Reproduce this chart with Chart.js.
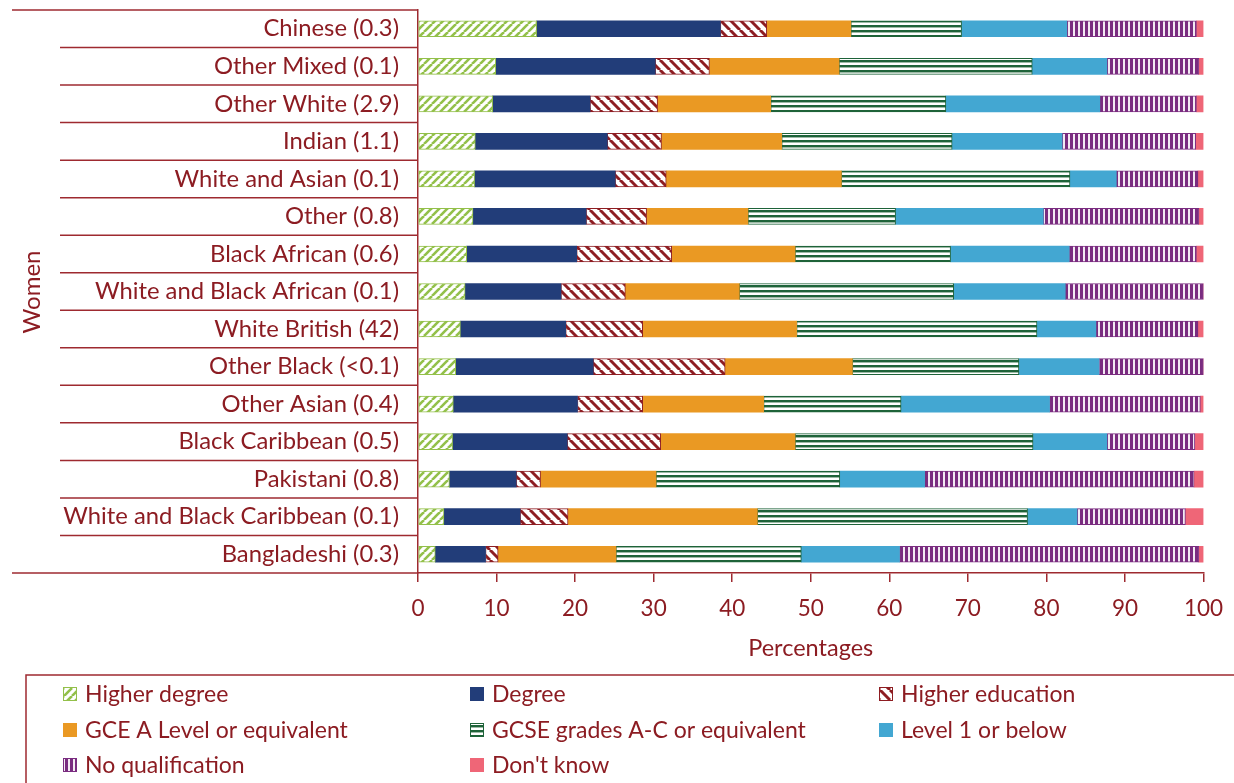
<!DOCTYPE html>
<html>
<head>
<meta charset="utf-8">
<script src="https://cdn.jsdelivr.net/npm/chart.js@4.4.1/dist/chart.umd.min.js"></script>
<style>
  html, body { margin: 0; padding: 0; background: #fff; }
  #wrap { width: 1234px; height: 783px; position: relative; }
</style>
</head>
<body>
<div id="wrap"><canvas id="qualChart"></canvas></div>
<script>
// Highest qualification by ethnic group, women (% share in brackets)
const CATEGORIES = [
  'Chinese (0.3)', 'Other Mixed (0.1)', 'Other White (2.9)', 'Indian (1.1)',
  'White and Asian (0.1)', 'Other (0.8)', 'Black African (0.6)',
  'White and Black African (0.1)', 'White British (42)', 'Other Black (<0.1)',
  'Other Asian (0.4)', 'Black Caribbean (0.5)', 'Pakistani (0.8)',
  'White and Black Caribbean (0.1)', 'Bangladeshi (0.3)'
];

const HIGHER_DEGREE = [15.1, 9.9, 9.5, 7.3, 7.2, 7.0, 6.2, 6.0, 5.4, 4.8, 4.5, 4.4, 4.0, 3.3, 2.2];
const DEGREE        = [23.4, 20.3, 12.4, 16.8, 17.9, 14.4, 14.0, 12.2, 13.4, 17.5, 15.8, 14.6, 8.5, 9.7, 6.4];
const HIGHER_ED     = [5.9, 6.9, 8.6, 6.9, 6.5, 7.7, 12.1, 8.2, 9.8, 16.8, 8.3, 11.9, 3.1, 6.1, 1.6];
const GCE_A_LEVEL   = [10.7, 16.5, 14.4, 15.3, 22.3, 12.9, 15.7, 14.5, 19.6, 16.2, 15.4, 17.1, 14.7, 24.1, 15.0];
const GCSE_AC       = [14.1, 24.6, 22.3, 21.7, 29.1, 18.8, 19.8, 27.3, 30.6, 21.2, 17.5, 30.3, 23.4, 34.4, 23.6];
const LEVEL1        = [13.4, 9.5, 19.6, 14.0, 5.9, 18.8, 15.1, 14.2, 7.5, 10.2, 18.9, 9.4, 10.8, 6.3, 12.5];
const NO_QUAL       = [16.5, 11.7, 12.3, 17.0, 10.4, 19.8, 16.2, 17.6, 13.0, 13.3, 19.2, 11.2, 34.3, 13.8, 38.1];
const DONT_KNOW     = [0.9, 0.6, 0.9, 1.0, 0.7, 0.6, 0.9, 0.0, 0.7, 0.0, 0.4, 1.1, 1.2, 2.3, 0.6];

const X_TICKS = [0, 10, 20, 30, 40, 50, 60, 70, 80, 90, 100];

const COLORS = {
  text:    '#8C1C22',
  rule:    '#9E2A30',
  hdeg:    '#93C04A',
  degree:  '#223D79',
  hed:     '#8E1D22',
  alevel:  '#EA9923',
  gcse:    '#1E6339',
  level1:  '#43A7D2',
  noqual:  '#7A2C80',
  dk:      '#EF6677',
};
const FONT = 'Lato, sans-serif';

// ── hatch patterns ─────────────────────────────────────────
function makePattern(w, h, draw) {
  const c = document.createElement('canvas');
  c.width = w; c.height = h;
  const g = c.getContext('2d');
  g.fillStyle = '#fff';
  g.fillRect(0, 0, w, h);
  draw(g, w, h);
  return document.getElementById('qualChart').getContext('2d').createPattern(c, 'repeat');
}

const hdegPattern = makePattern(8, 8, (g, w, h) => {
  g.strokeStyle = COLORS.hdeg; g.lineWidth = 2.6;
  [-w, 0, w].forEach(o => { g.beginPath(); g.moveTo(o, h); g.lineTo(o + w, 0); g.stroke(); });
});
const hedPattern = makePattern(10, 10, (g, w, h) => {
  g.strokeStyle = COLORS.hed; g.lineWidth = 3;
  [-w, 0, w].forEach(o => { g.beginPath(); g.moveTo(o, 0); g.lineTo(o + w, h); g.stroke(); });
});
const gcsePattern = makePattern(4, 5, (g, w) => {
  g.fillStyle = COLORS.gcse; g.fillRect(0, 0, w, 2);
  g.fillStyle = '#9DBAA6'; g.fillRect(0, 2, w, 1);
});
const noqualPattern = makePattern(5, 4, (g, w, h) => {
  g.fillStyle = '#F3EAF3'; g.fillRect(0, 0, w, h);
  g.fillStyle = COLORS.noqual; g.fillRect(0, 0, 3, h);
});

function series(label, data, fill, border) {
  return {
    label, data,
    backgroundColor: fill,
    borderColor: border || fill,
    borderWidth: border ? 1 : 0,
    borderSkipped: false,
    barThickness: 16,
  };
}

// ── decorations: row rules, side label, legend ─────────────
const framePlugin = {
  id: 'frame',
  afterDraw(chart) {
    const { ctx: c, chartArea, scales } = chart;
    const y = scales.y;
    const n = CATEGORIES.length;
    c.save();
    c.strokeStyle = COLORS.rule;
    c.lineWidth = 1.5;
    for (let i = 0; i <= n; i++) {
      let py;
      if (i === 0) py = chartArea.top;
      else if (i === n) py = chartArea.bottom;
      else py = (y.getPixelForValue(i - 1) + y.getPixelForValue(i)) / 2;
      const x0 = (i === 0 || i === n) ? 12 : 60;
      c.beginPath();
      c.moveTo(x0, py);
      c.lineTo(chartArea.left, py);
      c.stroke();
    }

    // "Women"
    c.fillStyle = COLORS.text;
    c.font = `24px ${FONT}`;
    c.textAlign = 'center';
    c.textBaseline = 'middle';
    c.translate(32, 292);
    c.rotate(-Math.PI / 2);
    c.fillText('Women', 0, 0);
    c.restore();

    // legend box
    c.save();
    c.strokeStyle = COLORS.rule;
    c.lineWidth = 1.5;
    c.strokeRect(26, 675, 1300, 200);
    const colX = [63, 470, 879];
    const rowY = [694, 730, 765];
    c.font = `23px ${FONT}`;
    c.textAlign = 'left';
    c.textBaseline = 'middle';
    chart.data.datasets.forEach((ds, i) => {
      const x = colX[i % 3], yy = rowY[Math.floor(i / 3)];
      c.fillStyle = ds.backgroundColor;
      c.fillRect(x, yy - 7, 14, 14);
      if (ds.borderWidth) {
        c.strokeStyle = ds.borderColor;
        c.lineWidth = 1;
        c.strokeRect(x + 0.5, yy - 6.5, 13, 13);
      }
      c.fillStyle = COLORS.text;
      c.fillText(ds.label, x + 22, yy + 1);
    });
    c.restore();
  }
};

new Chart(document.getElementById('qualChart'), {
  type: 'bar',
  data: {
    labels: CATEGORIES,
    datasets: [
      series('Higher degree', HIGHER_DEGREE, hdegPattern, COLORS.hdeg),
      series('Degree', DEGREE, COLORS.degree),
      series('Higher education', HIGHER_ED, hedPattern, COLORS.hed),
      series('GCE A Level or equivalent', GCE_A_LEVEL, COLORS.alevel),
      series('GCSE grades A-C or equivalent', GCSE_AC, gcsePattern, COLORS.gcse),
      series('Level 1 or below', LEVEL1, COLORS.level1),
      series('No qualification', NO_QUAL, noqualPattern, COLORS.noqual),
      series("Don't know", DONT_KNOW, COLORS.dk),
    ]
  },
  plugins: [framePlugin],
  options: {
    indexAxis: 'y',
    responsive: true,
    maintainAspectRatio: false,
    animation: false,
    layout: { padding: { left: 0, top: 10, right: 30.5, bottom: 120 } },
    plugins: {
      legend: { display: false },
      tooltip: { enabled: false },
    },
    scales: {
      y: {
        stacked: true,
        afterFit(s) { s.width = 418; s.paddingTop = 0; s.paddingBottom = 0; },
        grid: { display: false, drawTicks: false },
        border: { display: true, color: COLORS.rule, width: 1.5 },
        ticks: { color: COLORS.text, font: { family: FONT, size: 23.8 }, padding: 19 },
      },
      x: {
        stacked: true,
        min: 0,
        max: 100,
        afterFit(s) { s.height = 90; s.paddingLeft = 0; s.paddingRight = 0; },
        afterBuildTicks(s) { s.ticks = X_TICKS.map(v => ({ value: v })); },
        grid: { drawOnChartArea: false, drawTicks: true, tickLength: 9, color: COLORS.rule, lineWidth: 1.5 },
        border: { display: true, color: COLORS.rule, width: 1.5 },
        ticks: { color: COLORS.text, font: { family: FONT, size: 22.5 }, padding: 13, maxRotation: 0 },
        title: {
          display: true,
          text: 'Percentages',
          color: COLORS.text,
          font: { family: FONT, size: 23.5 },
          padding: { top: 4, bottom: 0 },
        },
      }
    }
  }
});
</script>
</body>
</html>
